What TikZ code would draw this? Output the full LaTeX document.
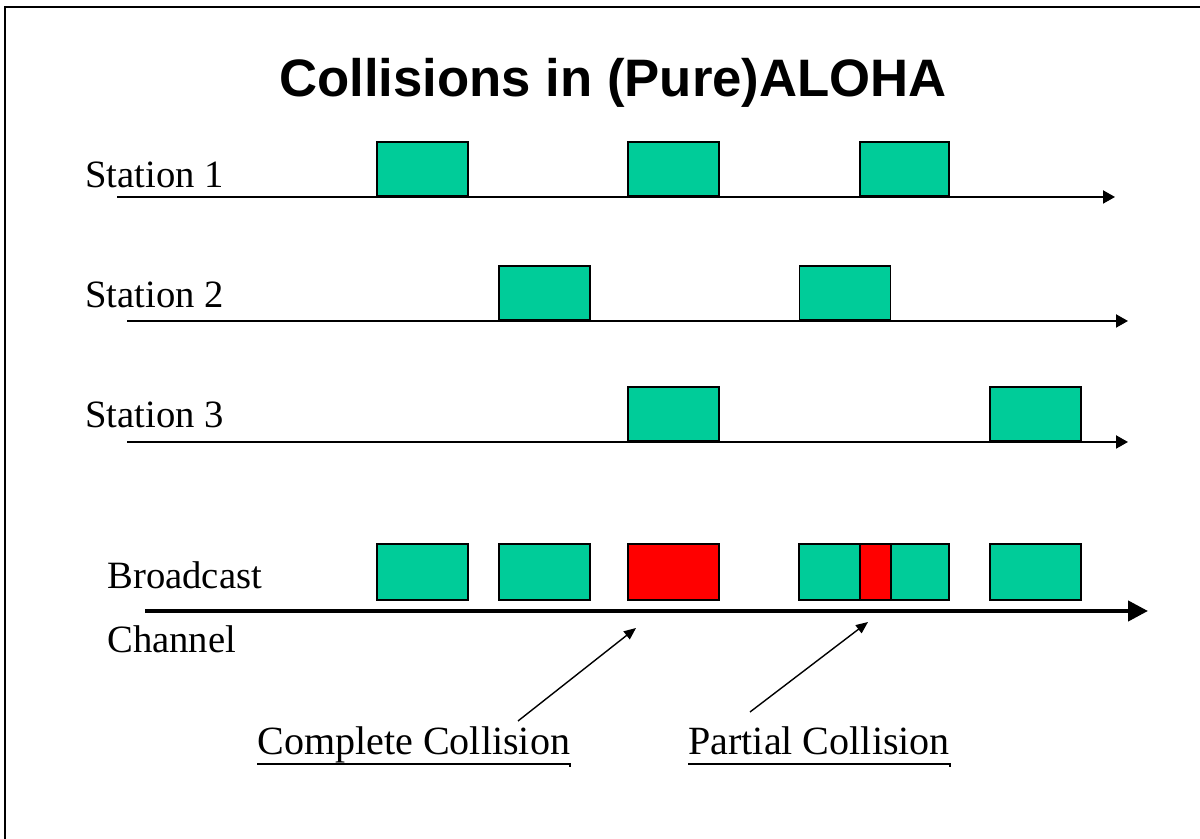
\documentclass[tikz,border=0pt]{standalone}
\usepackage{fontspec}
\setmainfont{Liberation Serif}
\newfontfamily\headfont{Liberation Sans}
\usetikzlibrary{arrows.meta}
\pgfdeclarelayer{bg}
\pgfsetlayers{bg,main}
\definecolor{pktgreen}{RGB}{0,204,153}
\tikzset{
    pkt/.style={draw, line width=1.1pt, fill=pktgreen, inner sep=0pt,
        minimum width=1.82cm, minimum height=1.08cm, anchor=south},
    bpkt/.style={pkt, minimum height=1.12cm},
    hit/.style={fill=red},
    lbl/.style={anchor=base west, inner sep=0pt, font=\fontsize{22}{26}\selectfont},
    axis/.style={line width=1.1pt, -{Triangle[length=0.24cm, width=0.26cm]}},
    chan/.style={line width=2.4pt, -{Triangle[length=0.4cm, width=0.4cm]}},
    ptr/.style={line width=0.8pt, -{Triangle[length=0.24cm, width=0.2cm]}},
}

\begin{document}
\begin{tikzpicture}
    \useasboundingbox (0cm, 0cm) rectangle (24cm, 16.78cm);
    \draw[line width=1.2pt] (0.10cm, 0cm) -- (0.10cm, 16.64cm) -- (24cm, 16.64cm);

    \node (title) [anchor=base, inner sep=0pt, font=\headfont\bfseries\fontsize{30}{35}\selectfont]
        at (12.26cm, 14.84cm) {Collisions in (Pure)ALOHA};

    % station labels
    \node (st1) [lbl] at (1.70cm, 13.02cm) {Station 1};
    \node (st2) [lbl] at (1.70cm, 10.62cm) {Station 2};
    \node (st3) [lbl] at (1.70cm, 8.22cm) {Station 3};
    \node (bc) [lbl] at (2.14cm, 5.00cm) {Broadcast};
    \node (ch) [lbl] at (2.14cm, 3.72cm) {Channel};

    % time axes
    \coordinate (t1a) at (2.34cm, 12.84cm);
    \coordinate (t1b) at (22.30cm, 12.84cm);
    \coordinate (t2a) at (2.54cm, 10.36cm);
    \coordinate (t2b) at (22.56cm, 10.36cm);
    \coordinate (t3a) at (2.54cm, 7.94cm);
    \coordinate (t3b) at (22.56cm, 7.94cm);
    \coordinate (cha) at (2.90cm, 4.56cm);
    \coordinate (chb) at (22.96cm, 4.56cm);

    % frames sent by each station
    \node (s1a) [pkt] at (8.45cm, 12.84cm) {};
    \node (s1b) [pkt] at (13.47cm, 12.84cm) {};
    \node (s1c) [pkt, minimum width=1.78cm] at (18.09cm, 12.84cm) {};
    \node (s2a) [pkt] at (10.89cm, 10.36cm) {};
    \node (s2b) [pkt] at (16.90cm, 10.36cm) {};
    \node (s3a) [pkt] at (13.47cm, 7.94cm) {};
    \node (s3b) [pkt] at (20.71cm, 7.94cm) {};

    % what the channel carries
    \node (b1) [bpkt] at (8.45cm, 4.76cm) {};
    \node (b2) [bpkt] at (10.89cm, 4.76cm) {};
    \node (b3) [bpkt, hit] at (13.47cm, 4.76cm) {};
    \node (b4) [bpkt, minimum width=1.22cm] at (16.59cm, 4.76cm) {};
    \node (b5) [bpkt, hit, minimum width=0.62cm] at (17.51cm, 4.76cm) {};
    \node (b6) [bpkt, minimum width=1.16cm] at (18.40cm, 4.76cm) {};
    \node (b7) [bpkt] at (20.71cm, 4.76cm) {};

    % collision labels
    \node (cc) [lbl, font=\fontsize{22.8}{27}\selectfont] at (5.14cm, 1.68cm) {Complete Collision};
    \node (pc) [lbl, font=\fontsize{22.8}{27}\selectfont] at (13.76cm, 1.68cm) {Partial Collision};
    \coordinate (cca) at (10.36cm, 2.36cm);
    \coordinate (ccb) at (12.72cm, 4.22cm);
    \coordinate (pca) at (15.00cm, 2.54cm);
    \coordinate (pcb) at (17.36cm, 4.34cm);

    \begin{pgfonlayer}{bg}
        \draw[axis] (t1a) -- (t1b);
        \draw[axis] (t2a) -- (t2b);
        \draw[axis] (t3a) -- (t3b);
        \draw[chan] (cha) -- (chb);
        \draw[ptr] (cca) -- (ccb);
        \draw[ptr] (pca) -- (pcb);
        \draw[line width=1.1pt] ([yshift=-0.18cm]cc.base west) -- ([yshift=-0.18cm]cc.base east) -- ++(0, -0.07cm);
        \draw[line width=1.1pt] ([yshift=-0.18cm]pc.base west) -- ([yshift=-0.18cm]pc.base east) -- ++(0, -0.07cm);
    \end{pgfonlayer}
\end{tikzpicture}
\end{document}
